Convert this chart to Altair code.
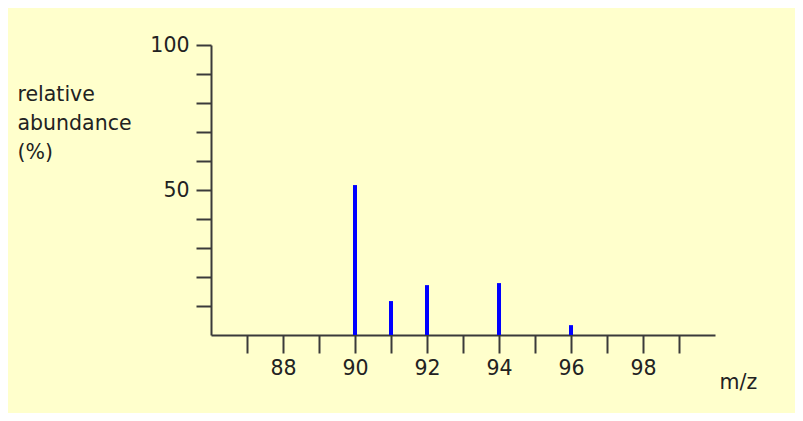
import altair as alt
import pandas as pd

mz = [90, 91, 92, 94, 96]
abundance = [51.7, 11.7, 17.2, 17.9, 3.4]
x_ticks = [87, 88, 89, 90, 91, 92, 93, 94, 95, 96, 97, 98, 99]
y_ticks = [10, 20, 30, 40, 50, 60, 70, 80, 90, 100]

df = pd.DataFrame({"mz": mz, "abundance": abundance, "zero": [0] * len(mz)})

FONT = "DejaVu Sans"
FS = 20.5
AXC = "#3a3a3a"
TXT = "#222222"

chart = (
    alt.Chart(df)
    .mark_rule(color="#0000FF", strokeWidth=4)
    .encode(
        x=alt.X(
            "mz:Q",
            scale=alt.Scale(domain=[86, 100], nice=False, zero=False),
            axis=alt.Axis(
                values=x_ticks,
                labelExpr="datum.value % 2 == 0 ? datum.label : ''",
                tickSize=18,
                tickWidth=2,
                tickColor=AXC,
                domainColor=AXC,
                domainWidth=2,
                grid=False,
                labelFont=FONT,
                labelFontSize=FS,
                labelColor=TXT,
                labelPadding=5,
                title="m/z",
                titleFont=FONT,
                titleFontSize=FS,
                titleFontWeight="normal",
                titleColor=TXT,
                titleAlign="left",
                titleBaseline="alphabetic",
                titleX=508,
                titleY=53,
            ),
        ),
        y=alt.Y(
            "abundance:Q",
            scale=alt.Scale(domain=[0, 100], nice=False),
            axis=alt.Axis(
                values=y_ticks,
                labelExpr="datum.value % 50 == 0 ? datum.label : ''",
                tickSize=15,
                tickWidth=2,
                tickColor=AXC,
                domainColor=AXC,
                domainWidth=2,
                grid=False,
                labelFont=FONT,
                labelFontSize=FS,
                labelColor=TXT,
                labelPadding=7,
                title=["relative", "abundance", "(%)"],
                titleFont=FONT,
                titleFontSize=FS,
                titleFontWeight="normal",
                titleColor=TXT,
                titleAngle=0,
                titleAlign="left",
                titleBaseline="top",
                titleLineHeight=29,
                titleX=-194,
                titleY=39,
            ),
        ),
        y2="zero:Q",
    )
    .properties(
        width=504,
        height=290,
        background="#FFFFCC",
        padding={"left": 203, "top": 37, "right": 80, "bottom": 78},
        autosize=alt.AutoSizeParams(type="none"),
    )
    .configure_view(stroke=None)
)

chart.save("out.html", embed_options={"renderer": "svg", "actions": False})
